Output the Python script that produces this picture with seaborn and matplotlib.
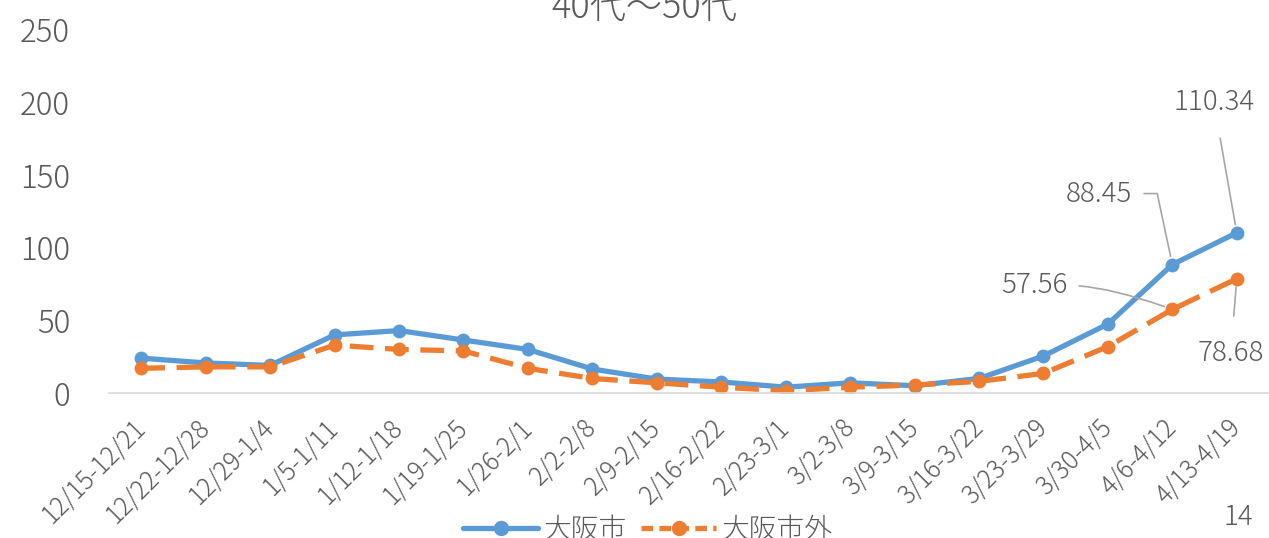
import matplotlib
matplotlib.use("Agg")
import matplotlib.pyplot as plt
import seaborn as sns
import pandas as pd

# weekly values
weeks = ["12/15-12/21", "12/22-12/28", "12/29-1/4", "1/5-1/11", "1/12-1/18",
         "1/19-1/25", "1/26-2/1", "2/2-2/8", "2/9-2/15", "2/16-2/22",
         "2/23-3/1", "3/2-3/8", "3/9-3/15", "3/16-3/22", "3/23-3/29",
         "3/30-4/5", "4/6-4/12", "4/13-4/19"]
osaka_city = [24, 20.7, 19, 40, 43, 36.5, 30, 16.5, 9.6, 7.6,
              4, 7, 5, 10, 25.5, 47.5, 88.45, 110.34]
outside_city = [17, 18, 18, 33, 30, 29, 17, 10, 7, 4,
                1.5, 4, 5.5, 8, 13.5, 32, 57.56, 78.68]
series_names = ["大阪市", "大阪市外"]
title = "40代〜50代"
page_no = "14"

sns.set_theme(style="white")
plt.rcParams["font.family"] = ["Noto Sans CJK JP", "DejaVu Sans"]
plt.rcParams["font.weight"] = "light"
grey = "#595959"
colors = ["#5B9BD5", "#ED7D31"]

df = pd.concat([
    pd.DataFrame({"week": weeks, "value": osaka_city, "area": series_names[0]}),
    pd.DataFrame({"week": weeks, "value": outside_city, "area": series_names[1]}),
])

fig = plt.figure(figsize=(12.69, 5.38), dpi=100)
ax = fig.add_axes([109 / 1269, 1 - 393 / 538, 1 - 109 / 1269, (393 - 30) / 538])

sns.lineplot(data=df, x="week", y="value", hue="area", style="area",
             palette=colors, markers=["o", "o"], dashes=[(1, 0), (4.5, 2.2)],
             linewidth=3.8, markersize=10, markeredgewidth=0, ax=ax,
             legend=False, sort=False)

ax.set_xlim(-0.5, len(weeks) - 0.5)
ax.set_ylim(0, 250)
ax.set_yticks([0, 50, 100, 150, 200, 250])
ax.set_xlabel("")
ax.set_ylabel("")
for s in ["left", "right", "top"]:
    ax.spines[s].set_visible(False)
ax.spines["bottom"].set_color("#D9D9D9")
ax.spines["bottom"].set_linewidth(1.2)
ax.tick_params(axis="y", length=0, pad=28, labelsize=22.5, labelcolor=grey)
ax.tick_params(axis="x", length=0, pad=22, labelsize=18, labelcolor=grey)
for lab in ax.get_xticklabels():
    lab.set_rotation(45)
    lab.set_ha("right")
    lab.set_va("center")
    lab.set_rotation_mode("anchor")

# data labels with grey leader lines
last = len(weeks) - 1
labels = [
    (last, osaka_city[last], (-23, 131), None, (0.5, 0.5)),
    (last - 1, osaka_city[last - 1], (-73, 71), "angle,angleA=0,angleB=102,rad=0", (1.0, 0.5)),
    (last - 1, outside_city[last - 1], (-138, 24), "angle3,angleA=0,angleB=160", (1.0, 0.5)),
    (last, outside_city[last], (-6, -74), None, (0.5, 0.5)),
]
for xi, yv, off, conn, rp in labels:
    props = dict(arrowstyle="-", color="#A6A6A6", lw=1.2, shrinkA=6 if conn else 14,
                 shrinkB=6, relpos=rp)
    if conn:
        props["connectionstyle"] = conn
    ax.annotate(f"{yv:.2f}", xy=(xi, yv), xytext=off, textcoords="offset pixels",
                ha="center", va="center", fontsize=20, color=grey, arrowprops=props)

fig.text(644 / 1269, 1 - 8 / 538, title, ha="center", va="center",
         fontsize=26, color=grey)
fig.text(1238 / 1269, 1 - 517 / 538, page_no, ha="center", va="center",
         fontsize=20, color=grey)

handles = [
    plt.Line2D([], [], color=colors[0], lw=3.8, marker="o", markersize=10),
    plt.Line2D([], [], color=colors[1], lw=3.8, marker="o", markersize=10,
               dashes=(2.2, 1.2)),
]
fig.legend(handles, series_names, loc="center", bbox_to_anchor=(648 / 1269, 1 - 530 / 538),
           ncol=2, frameon=False, fontsize=20, labelcolor=grey,
           handlelength=2.7, columnspacing=0.5, handletextpad=0.2)

fig.savefig("out.png", dpi=100)
